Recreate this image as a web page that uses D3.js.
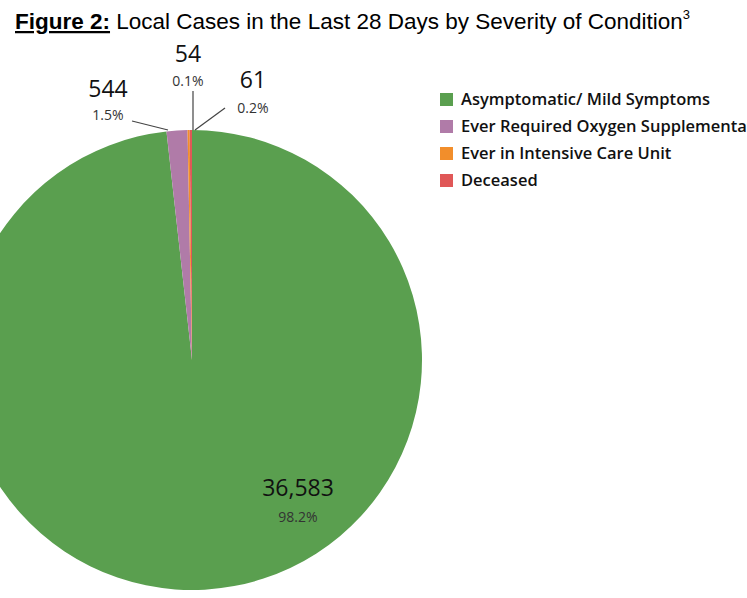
<!DOCTYPE html>
<html><head><meta charset="utf-8">
<script src="https://cdn.jsdelivr.net/npm/d3@7"></script>
<style>body{margin:0;background:#fff;overflow:hidden}</style>
</head><body>
<svg id="c" width="747" height="598"></svg>
<script>
const categories = ["Asymptomatic/ Mild Symptoms","Ever Required Oxygen Supplementation","Ever in Intensive Care Unit","Deceased"];
const values = [36583, 544, 54, 61];
const percents = ["98.2%","1.5%","0.1%","0.2%"];
const colors = ["#5a9f4f","#b07ba8","#f28e2b","#e05757"];

const svg = d3.select("#c");
const cx = 192, cy = 360, r = 230;

const t = svg.append("text").attr("x", 15).attr("y", 29)
  .attr("font-family","Liberation Sans, Arial, sans-serif").attr("font-size", 22.5).attr("fill","#000");
t.append("tspan").attr("font-weight","bold").attr("text-decoration","underline").text("Figure 2:");
t.append("tspan").text(" Local Cases in the Last 28 Days by Severity of Condition");
t.append("tspan").attr("font-size", 13).attr("dy", -10).text("3");

const pie = d3.pie().sort(null).value(d => d)(values);
const arc = d3.arc().innerRadius(0).outerRadius(r);
const g = svg.append("g").attr("transform", `translate(${cx},${cy})`);
g.selectAll("path").data(pie).join("path")
  .attr("d", arc).attr("fill", (d,i) => colors[i]);

const font = "Open Sans, Noto Sans, sans-serif";
const labels = [
  {i:0, x:298, vy:496, py:522, line:null},
  {i:1, x:108, vy:97, py:120, line:[[132,121],[168,130]]},
  {i:2, x:188, vy:62, py:86, line:[[193,91],[193,130]]},
  {i:3, x:253, vy:88, py:113, line:[[225,108],[195,130]]}
];
labels.forEach(l => {
  svg.append("text").attr("x", l.x).attr("y", l.vy).attr("text-anchor","middle")
    .attr("font-family", font).attr("font-size", 23).attr("fill","#111").text(d3.format(",")(values[l.i]));
  svg.append("text").attr("x", l.x).attr("y", l.py).attr("text-anchor","middle")
    .attr("font-family", font).attr("font-size", 14).attr("fill","#333").text(percents[l.i]);
  if (l.line) svg.append("path").attr("d", d3.line()(l.line)).attr("stroke","#444").attr("fill","none").attr("stroke-width",1.2);
});

const lg = svg.append("g");
categories.forEach((c,i) => {
  const y = 105 + i*27;
  lg.append("rect").attr("x", 440).attr("y", y-12).attr("width", 13).attr("height", 13).attr("fill", colors[i]);
  lg.append("text").attr("x", 461).attr("y", y).attr("font-family", font).attr("font-weight", 600)
    .attr("font-size", 16.5).attr("fill","#111").text(c);
});
</script>
</body></html>
